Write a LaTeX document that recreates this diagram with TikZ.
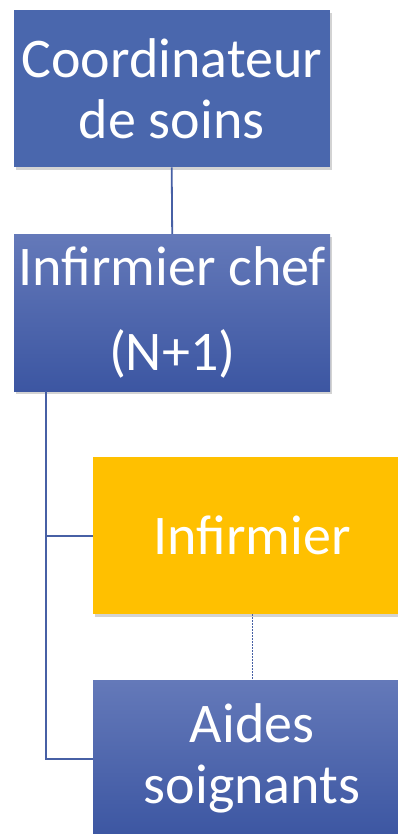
\documentclass[tikz,border=0pt]{standalone}
\usepackage{fontspec}
\setmainfont{Carlito}
\usetikzlibrary{positioning,shadows}

\definecolor{boxblue}{HTML}{4A67AD}
\definecolor{boxtop}{HTML}{6479B9}
\definecolor{boxbot}{HTML}{3C56A2}
\definecolor{boxorange}{HTML}{FFC000}
\definecolor{linkblue}{HTML}{4760A5}

\begin{document}
\begin{tikzpicture}[
x=1pt, y=-1pt,
box/.style={rectangle, minimum width=316pt, minimum height=157pt,
  inner sep=0pt, align=center, text=white,
  font={\fontsize{56}{61}\selectfont},
  drop shadow={opacity=0.35, shadow xshift=2pt, shadow yshift=-3pt}},
flatbox/.style={box, fill=boxblue},
gradbox/.style={box, top color=boxtop, bottom color=boxbot},
orangebox/.style={box, fill=boxorange, minimum width=318pt},
link/.style={draw=linkblue, line width=1.8pt}]
\useasboundingbox (0,0) rectangle (398,834);

\node [flatbox, anchor=north west] (coord) at (13.5,10)
  {Coordinateur\\de soins};
\node [gradbox, anchor=north west, font={\fontsize{56}{85}\selectfont}]
  (chef) at (14,234) {Infirmier chef\\(N+1)};
\node [orangebox, anchor=north west] (infirmier) at (93,457)
  {Infirmier};
\node [gradbox, minimum width=318pt, anchor=north west] (aides) at (93,680)
  {Aides\\soignants};

\draw [link] (coord.south) -- (chef.north);
\draw [link] ([xshift=32pt]chef.south west) |- (infirmier.west);
\draw [link] ([xshift=32pt]chef.south west) |- (aides.west);
\draw [link, line width=1.4pt, dash pattern=on 1.5pt off 1.5pt]
  (infirmier.south) -- (aides.north);
\end{tikzpicture}
\end{document}
